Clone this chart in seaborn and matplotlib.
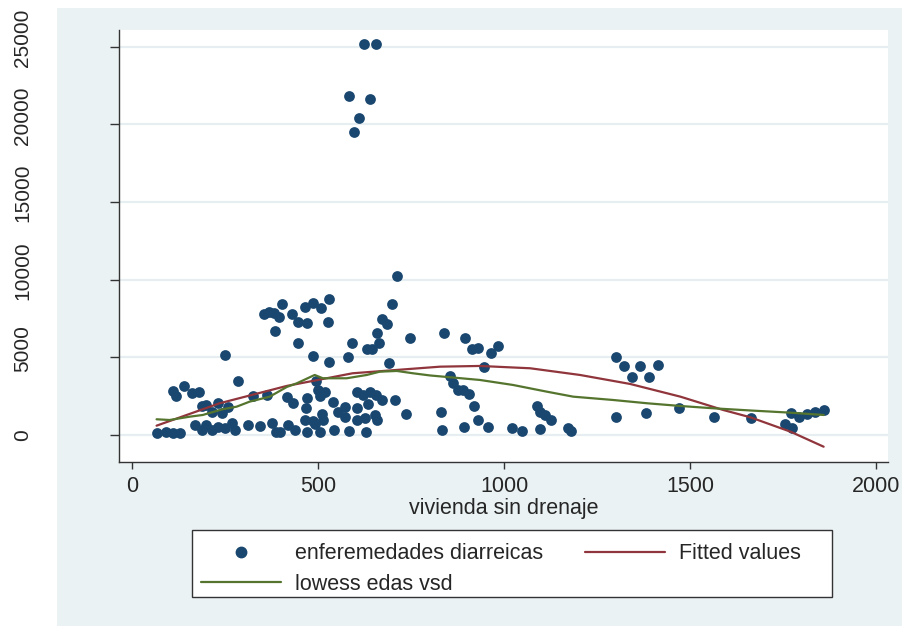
import matplotlib
matplotlib.use("Agg")
import matplotlib.pyplot as plt
import matplotlib.transforms as mtransforms
import seaborn as sns
import pandas as pd
from matplotlib.patches import Rectangle
from matplotlib.lines import Line2D

# vivienda sin drenaje (x) and enfermedades diarreicas (y)
vsd = [622, 654, 582, 638, 608, 595, 711, 401, 463, 485, 506, 528, 353, 366, 380, 393,
       428, 444, 468, 525, 382, 444, 697, 670, 684, 657, 662, 630, 643, 746, 590, 579,
       485, 528, 689, 250, 283, 493, 108, 116, 140, 159, 178, 323, 363, 415, 431, 498,
       503, 517, 468, 538, 466, 603, 619, 638, 654, 670, 705, 633, 552, 571, 603, 571,
       603, 625, 651, 657, 735, 463, 485, 509, 512, 490, 417, 436, 396, 468, 503, 541,
       582, 627, 186, 199, 229, 256, 213, 242, 167, 186, 199, 213, 229, 248, 269, 275,
       312, 342, 374, 385, 67, 89, 108, 127, 837, 894, 913, 929, 964, 983, 945, 853,
       862, 875, 888, 905, 918, 829, 929, 832, 891, 956, 1020, 1047, 1088, 1096, 1109, 1125,
       1096, 1171, 1179, 1300, 1322, 1343, 1365, 1389, 1413, 1300, 1381, 1470, 1564, 1664, 1755, 1774,
       1771, 1793, 1814, 1836, 1858]
edas = [25190, 25190, 21840, 21650, 20420, 19520, 10240, 8440, 8250, 8500, 8180, 8760, 7800, 7930, 7860, 7600,
        7800, 7280, 7220, 7280, 6700, 5930, 8440, 7470, 7150, 6570, 5930, 5540, 5540, 6250, 5930, 5030,
        5090, 4700, 4640, 5150, 3480, 3480, 2830, 2510, 3160, 2710, 2770, 2510, 2580, 2450, 2060, 2900,
        2510, 2770, 2380, 2130, 1740, 2770, 2580, 2770, 2580, 2260, 2260, 2000, 1480, 1800, 1740, 1160,
        970, 1100, 1290, 970, 1350, 970, 900, 1350, 970, 710, 640, 320, 190, 190, 190, 320,
        260, 190, 1870, 1930, 2060, 1800, 1480, 1420, 640, 320, 640, 320, 520, 450, 770, 320,
        640, 580, 770, 190, 130, 190, 130, 130, 6570, 6250, 5540, 5600, 5280, 5730, 4380, 3800,
        3350, 2900, 2900, 2640, 1870, 1480, 970, 320, 520, 520, 450, 260, 1870, 1480, 1290, 970,
        390, 450, 260, 5030, 4440, 3740, 4440, 3740, 4510, 1160, 1420, 1740, 1160, 1100, 710, 450,
        1420, 1160, 1350, 1480, 1610]

# Fitted values (quadratic fit)
fit_x = [65, 234, 415, 592, 827, 934, 1069, 1203, 1338, 1473, 1588, 1661, 1769, 1858]
fit_y = [600, 2040, 3160, 3975, 4400, 4446, 4297, 3866, 3286, 2468, 1611, 1140, 213, -754]

# lowess edas vsd
low_x = [65, 100, 154, 189, 242, 280, 315, 369, 415, 442, 490, 512, 576, 630, 665, 711,
         754, 800, 934, 1023, 1114, 1185, 1292, 1384, 1473, 1561, 1661, 1769, 1858]
low_y = [1012, 966, 1179, 1289, 1656, 1823, 2146, 2468, 3093, 3331, 3866, 3653, 3653, 3866, 4078, 4124,
         3975, 3834, 3544, 3222, 2790, 2468, 2255, 2042, 1868, 1720, 1579, 1437, 1289]

xticks = [0, 500, 1000, 1500, 2000]
yticks = [0, 5000, 10000, 15000, 20000, 25000]
xlabel = "vivienda sin drenaje"
labels = ["enferemedades diarreicas", "lowess edas vsd", "Fitted values"]

NAVY = "#1A476F"
MAROON = "#90353B"
GREEN = "#55752F"
BG = "#EAF2F3"

sns.set_style("white")
plt.rcParams['font.family'] = ['Liberation Sans', 'DejaVu Sans']

W, H = 903, 626
fig = plt.figure(figsize=(W / 100, H / 100), dpi=100)
fig.patch.set_facecolor("white")
fig.add_artist(Rectangle((57 / W, 0), 1 - 57 / W, (H - 8) / H, transform=fig.transFigure,
                         facecolor=BG, edgecolor="none", zorder=-10))

ax = fig.add_axes([119 / W, (H - 462) / H, (888 - 119) / W, (462 - 30) / H])
ax.set_facecolor("white")

df = pd.DataFrame({"vsd": vsd, "edas": edas})
sns.scatterplot(data=df, x="vsd", y="edas", color=NAVY, s=60, linewidth=0, ax=ax,
                legend=False, zorder=3)
sns.lineplot(x=fit_x, y=fit_y, color=MAROON, lw=1.6, ax=ax, zorder=4,
             estimator=None, sort=False)
sns.lineplot(x=low_x, y=low_y, color=GREEN, lw=1.6, ax=ax, zorder=5,
             estimator=None, sort=False)

ax.set_xlim(-36, 2031)
ax.set_ylim(-1739, 26080)
ax.set_xticks(xticks)
ax.set_yticks(yticks)
ax.set_xticklabels([str(v) for v in xticks])
ax.set_yticklabels([str(v) for v in yticks])

for s in ["top", "right"]:
    ax.spines[s].set_visible(False)
for s in ["left", "bottom"]:
    ax.spines[s].set_color("#333333")
    ax.spines[s].set_linewidth(1.0)

ax.tick_params(axis="x", length=5, width=1, color="#333333", labelsize=15.5, pad=5,
               bottom=True)
ax.tick_params(axis="y", length=6.5, width=1, color="#333333", pad=56, left=True)
up = mtransforms.ScaledTranslation(0, 9 / 100, fig.dpi_scale_trans)
for tick in ax.yaxis.get_major_ticks():
    lbl = tick.label1
    lbl.set_rotation(90)
    lbl.set_fontfamily(['Liberation Sans Narrow', 'Liberation Sans'])
    lbl.set_fontsize(15)
    lbl.set_va("center")
    lbl.set_ha("right")
    if len(lbl.get_text()) > 1:
        lbl.set_transform(lbl.get_transform() + up)

ax.yaxis.grid(True, color="#E6EEF1", lw=1.6)
ax.xaxis.grid(False)
ax.set_axisbelow(True)
ax.set_xlabel(xlabel, fontsize=15.5, labelpad=1)
ax.set_ylabel("")

h_sc = Line2D([], [], marker="o", color=NAVY, linestyle="none", markersize=7.5)
h_low = Line2D([], [], color=GREEN, lw=1.6)
h_fit = Line2D([], [], color=MAROON, lw=1.6)
fig.legend(handles=[h_sc, h_low, h_fit], labels=labels, ncol=2, loc="center",
           bbox_to_anchor=(501 / W, (H - 569) / H), frameon=False, fontsize=15.5,
           handlelength=3.7, handletextpad=0.65, columnspacing=1.95, labelspacing=0.45,
           borderpad=0)
fig.add_artist(Rectangle((192 / W, (H - 597) / H), 640 / W, 67 / H, transform=fig.transFigure,
                         facecolor="white", edgecolor="#333333", lw=1.0, zorder=-5))

fig.savefig("out.png", dpi=100)
